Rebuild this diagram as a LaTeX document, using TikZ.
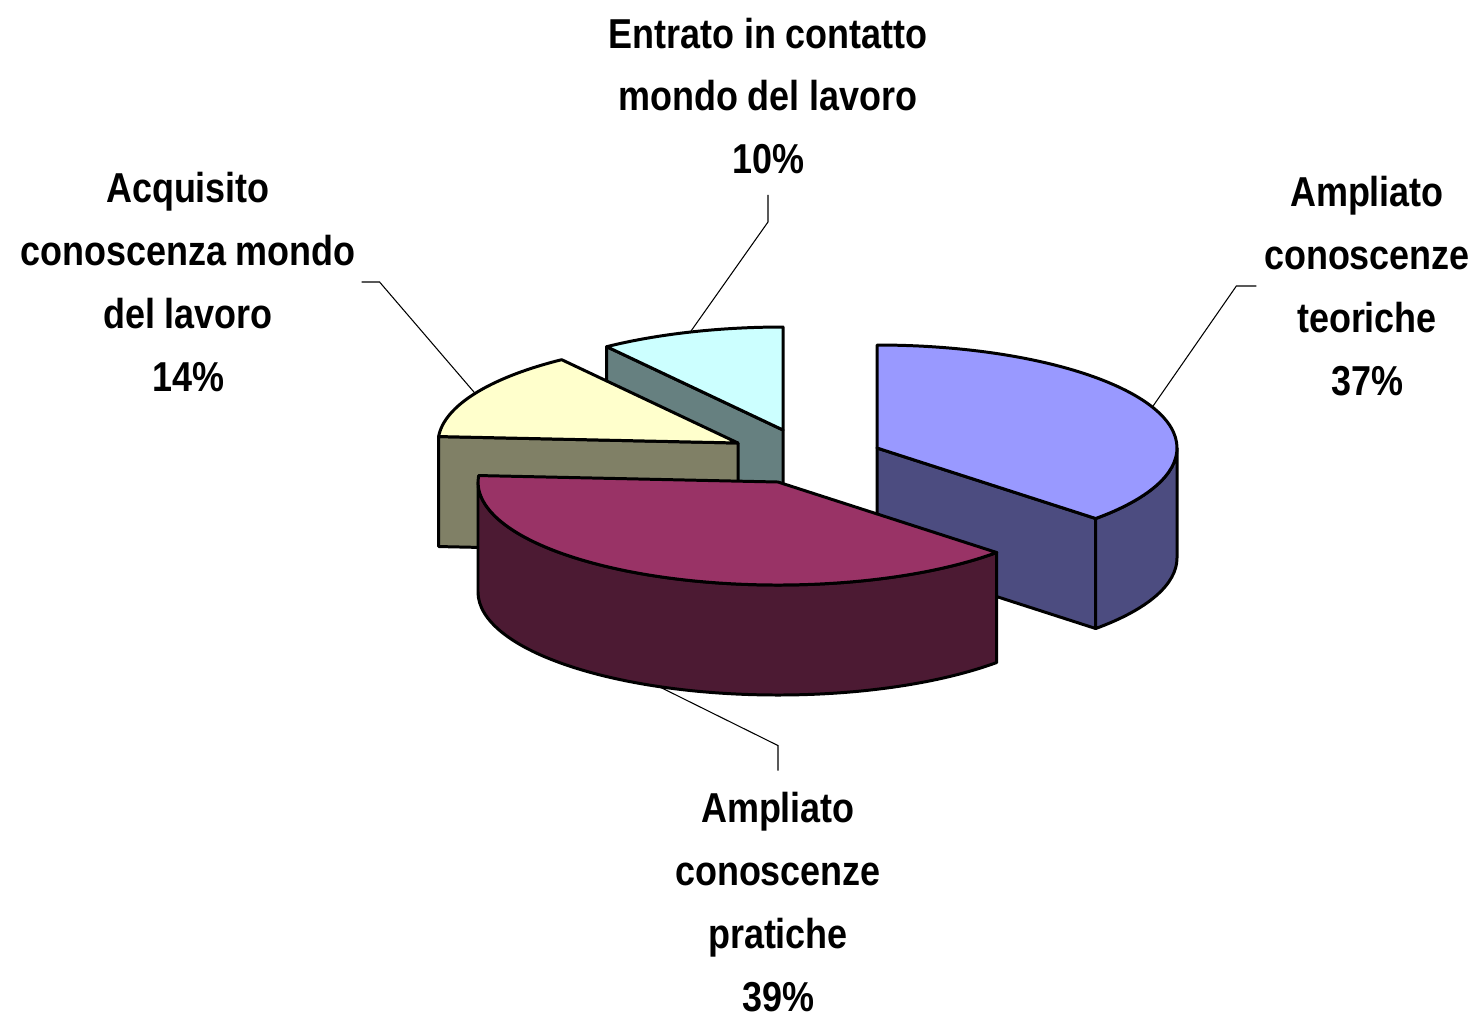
\documentclass[tikz,border=0pt]{standalone}
\usepackage{fontspec}
\newfontfamily\chartfont{Liberation Sans}[FakeStretch=0.86]
\usetikzlibrary{calc}
\definecolor{teoTop}{HTML}{9999FF}
\definecolor{teoSide}{HTML}{4C4C80}
\definecolor{praTop}{HTML}{993366}
\definecolor{praSide}{HTML}{4C1A33}
\definecolor{acqTop}{HTML}{FFFFCC}
\definecolor{acqSide}{HTML}{808066}
\definecolor{entTop}{HTML}{CCFFFF}
\definecolor{entSide}{HTML}{668080}
\tikzset{
    slice/.style = {
        draw = black,
        line width = 0.85pt,
        line join = round,
        },
    pie arc/.style = {
        x radius = 300,
        y radius = 103,
        },
    leader/.style = {
        draw = black,
        line width = 0.3pt,
        },
    pie label/.style = {
        font = \chartfont\bfseries\fontsize{11.9}{17.9}\selectfont,
        align = center,
        inner sep = 0pt,
        },
}

\begin{document}
\begin{tikzpicture}[x=0.1mm, y=0.1mm]
    \useasboundingbox (0,0) rectangle (1479,-1017);
    % slice centres
    \coordinate (entC) at (783,-430);
    \coordinate (acqC) at (738,-443);
    \coordinate (teoC) at (877,-448);
    \coordinate (praC) at (778,-482);

    % Entrato in contatto
    \filldraw[slice, fill=entSide] (entC) -- ++(126:300 and 103) -- ++(0,-110) -- ($(entC)+(0,-110)$) -- cycle;
    \filldraw[slice, fill=entTop] (entC) -- ++(90:300 and 103) arc[pie arc, start angle=90, end angle=126] -- cycle;

    % Acquisito conoscenza
    \filldraw[slice, fill=acqSide] (acqC) -- ++(176.4:300 and 103) -- ++(0,-110) -- ($(acqC)+(0,-110)$) -- cycle;
    \filldraw[slice, fill=acqTop] (acqC) -- ++(126:300 and 103) arc[pie arc, start angle=126, end angle=176.4] -- cycle;

    % Ampliato conoscenze teoriche
    \filldraw[slice, fill=teoSide] (teoC) -- ++(-43.2:300 and 103) -- ++(0,-110) -- ($(teoC)+(0,-110)$) -- cycle;
    \filldraw[slice, fill=teoSide] (teoC) ++(-43.2:300 and 103) arc[pie arc, start angle=-43.2, end angle=0]
        -- ++(0,-110) arc[pie arc, start angle=0, end angle=-43.2] -- cycle;
    \filldraw[slice, fill=teoTop] (teoC) -- ++(90:300 and 103) arc[pie arc, start angle=90, end angle=-43.2] -- cycle;

    % Ampliato conoscenze pratiche
    \filldraw[slice, fill=praSide] (praC) ++(180:300 and 103) arc[pie arc, start angle=180, end angle=316.8]
        -- ++(0,-110) arc[pie arc, start angle=316.8, end angle=180] -- cycle;
    \filldraw[slice, fill=praTop] (praC) -- ++(-43.2:300 and 103) arc[pie arc, start angle=-43.2, end angle=-183.6] -- cycle;

    % labels
    \node[pie label] (entLbl) at (768,-96) {Entrato in contatto\\mondo del lavoro\\10\%};
    \node[pie label] (acqLbl) at (188,-282) {Acquisito\\conoscenza mondo\\del lavoro\\14\%};
    \node[pie label] (teoLbl) at (1367,-286) {Ampliato\\conoscenze\\teoriche\\37\%};
    \node[pie label] (praLbl) at (778,-902) {Ampliato\\conoscenze\\pratiche\\39\%};

    % leader lines
    \coordinate (entTip) at ($(entC)+(108:300 and 103)$);
    \coordinate (acqTip) at ($(acqC)+(151.2:300 and 103)$);
    \coordinate (teoTip) at ($(teoC)+(23.4:300 and 103)$);
    \coordinate (praTip) at ($(praC)+(-113.4:300 and 103)+(0,-110)$);
    \draw[leader] ([yshift=-2mm]entLbl.south) -- ([yshift=-4.7mm]entLbl.south) -- (entTip);
    \draw[leader] ([xshift=0.5mm]acqLbl.east) -- ([xshift=2.3mm]acqLbl.east) -- (acqTip);
    \draw[leader] ([xshift=-0.7mm]teoLbl.west) -- ([xshift=-2.7mm]teoLbl.west) -- (teoTip);
    \draw[leader] (praTip) -- ([yshift=4.6mm]praLbl.north) -- ([yshift=2.1mm]praLbl.north);
\end{tikzpicture}
\end{document}
